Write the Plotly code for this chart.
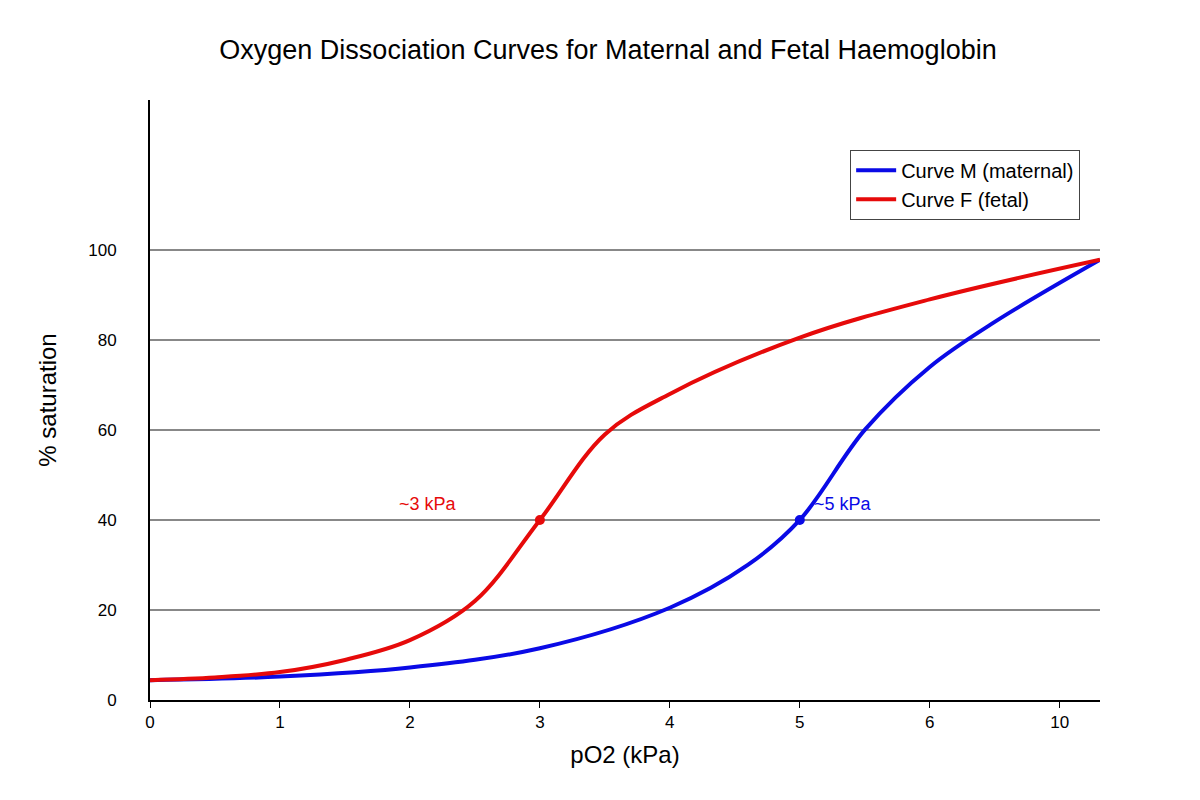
import plotly.graph_objects as go

# x positions are evenly spaced tick slots; slot 7 is labelled "10"
tick_pos = [0, 1, 2, 3, 4, 5, 6, 7]
tick_text = ["0", "1", "2", "3", "4", "5", "6", "10"]

fetal_x = [0, 0.5, 1, 1.5, 2, 2.5, 3, 3.5, 4, 5, 6, 7.31]
fetal_y = [4.4, 5, 6.2, 8.9, 13.3, 22, 40, 59, 68, 80.5, 89, 97.8]
mat_x = [0, 1, 2, 3, 4, 4.6, 5, 5.5, 6, 6.5, 7.31]
mat_y = [4.4, 5.2, 7.2, 11.5, 20.5, 30, 40, 60, 74, 84, 97.8]

fig = go.Figure()
fig.add_trace(go.Scatter(x=mat_x, y=mat_y, mode="lines", name="Curve M (maternal)",
                         line=dict(color="#0a0ae6", width=4, shape="spline", smoothing=1.0)))
fig.add_trace(go.Scatter(x=fetal_x, y=fetal_y, mode="lines", name="Curve F (fetal)",
                         line=dict(color="#e60a0a", width=4, shape="spline", smoothing=1.0)))
fig.add_trace(go.Scatter(x=[3], y=[40], mode="markers", showlegend=False,
                         marker=dict(color="#e60a0a", size=10)))
fig.add_trace(go.Scatter(x=[5], y=[40], mode="markers", showlegend=False,
                         marker=dict(color="#0a0ae6", size=10)))
fig.add_annotation(x=2.14, y=43.5, text="~3 kPa", showarrow=False,
                   font=dict(color="#e60a0a", size=18))
fig.add_annotation(x=5.33, y=43.5, text="~5 kPa", showarrow=False,
                   font=dict(color="#0a0ae6", size=18))

fig.update_layout(
    width=1200, height=800,
    paper_bgcolor="white", plot_bgcolor="white",
    font=dict(family="Liberation Sans, Arial", color="black", size=17),
    title=dict(text="Oxygen Dissociation Curves for Maternal and Fetal Haemoglobin",
               x=0.5, xanchor="center", y=0.96, font=dict(size=27)),
    margin=dict(l=142, r=108, t=92, b=108),
    legend=dict(x=0.737, y=0.917, xanchor="left", yanchor="top",
                bordercolor="#444", borderwidth=1, bgcolor="white",
                font=dict(size=20), itemwidth=40),
    xaxis=dict(range=[0, 7.31], tickmode="array", tickvals=tick_pos, ticktext=tick_text,
               showgrid=False, zeroline=False, showline=True, linecolor="black",
               linewidth=2, ticks="outside", ticklen=6, tickcolor="black",
               title=dict(text="pO2 (kPa)", font=dict(size=24))),
    yaxis=dict(range=[0, 133.3], tickvals=[0, 20, 40, 60, 80, 100],
               showgrid=True, gridcolor="#888", gridwidth=1.5, zeroline=False,
               showline=True, linecolor="black", linewidth=2, ticks="",
               ticklabelstandoff=28,
               title=dict(text="% saturation", font=dict(size=24), standoff=25)),
)
fig.write_html("out.html")
